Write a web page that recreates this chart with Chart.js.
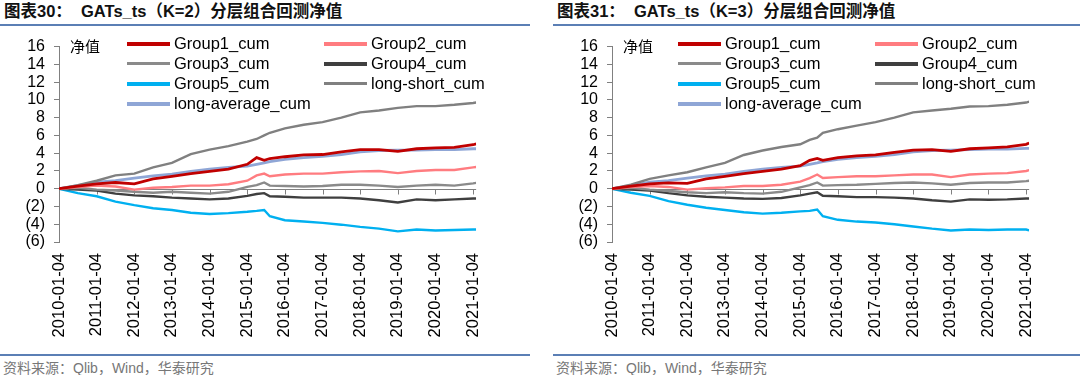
<!DOCTYPE html>
<html>
<head>
<meta charset="utf-8">
<script src="https://cdn.jsdelivr.net/npm/chart.js@4/dist/chart.umd.min.js"></script>
<style>
  html, body { margin: 0; padding: 0; background: #fff; }
  body { width: 1080px; height: 375px; position: relative; overflow: hidden;
         font-family: "Liberation Sans", Arial, "Noto Sans CJK SC", sans-serif; }
  .title { position: absolute; top: 0px; font-size: 16.5px; line-height: 22px; font-weight: bold; color: #111; white-space: pre; }
  .rule { position: absolute; height: 2px; background: #5b7fb5; }
  .source { position: absolute; top: 357px; font-size: 14px; color: #777; white-space: pre; }
  canvas { position: absolute; top: 28px; }
  .legend { position: absolute; top: 0; left: 0; }
  .item { position: absolute; font-size: 16.5px; color: #000; line-height: 18px; white-space: pre; }
  .item span { position: absolute; left: 0; top: 8px; width: 43px; }
  .item b { position: absolute; left: 47px; top: 0; font-weight: normal; }
  .unit { position: absolute; top: 35px; font-size: 15px; color: #000; font-family: "Noto Sans CJK SC", sans-serif; }
</style>
</head>
<body>
<div class="title" style="left:4px">图表30：  GATs_ts（K=2）分层组合回测净值</div>
<div class="rule" style="left:0; width:530px; top:24px"></div>
<canvas id="c1" width="504" height="322" style="left:0"></canvas>
<div class="unit" style="left:70px">净值</div>
<div class="legend" id="l1"></div>
<div class="rule" style="left:0; width:530px; top:354px; height:1.5px"></div>
<div class="source" style="left:3px">资料来源：Qlib，Wind，华泰研究</div>

<div class="title" style="left:557px">图表31：  GATs_ts（K=3）分层组合回测净值</div>
<div class="rule" style="left:553px; width:527px; top:24px"></div>
<canvas id="c2" width="504" height="322" style="left:553px"></canvas>
<div class="unit" style="left:623px">净值</div>
<div class="legend" id="l2"></div>
<div class="rule" style="left:553px; width:527px; top:354px; height:1.5px"></div>
<div class="source" style="left:556px">资料来源：Qlib，Wind，华泰研究</div>

<script>
// x positions in fractional years
var xYears = [2010, 2010.5, 2011, 2011.5, 2012, 2012.5, 2013, 2013.5, 2014, 2014.5,
              2015, 2015.25, 2015.45, 2015.6, 2016, 2016.5, 2017, 2017.5, 2018, 2018.5,
              2019, 2019.5, 2020, 2020.5, 2021, 2021.08];
var xTickValues = [2010, 2011, 2012, 2013, 2014, 2015, 2016, 2017, 2018, 2019, 2020, 2021];
var xTickLabels = ['2010-01-04', '2011-01-04', '2012-01-04', '2013-01-04', '2014-01-04', '2015-01-04',
                   '2016-01-04', '2017-01-04', '2018-01-04', '2019-01-04', '2020-01-04', '2021-01-04'];

var seriesNames = ['Group1_cum', 'Group2_cum', 'Group3_cum', 'Group4_cum', 'Group5_cum', 'long-short_cum', 'long-average_cum'];
var seriesColors = ['#c00000', '#ff7c80', '#8a8a8a', '#3f3f3f', '#00b0f0', '#808080', '#8fa6d6'];
var lineWidths = [2.8, 2.4, 2.4, 2.4, 2.4, 2.4, 2.8];
var legendWidths = [3.5, 3.5, 3, 3.5, 3.5, 3, 3.5];

// chart 30 (K=2)
var k2_group1 = [0, 0.3, 0.55, 0.7, 0.55, 1.1, 1.4, 1.7, 1.95, 2.2, 2.75, 3.5, 3.2, 3.4, 3.6, 3.8, 3.85, 4.15, 4.4, 4.4, 4.2, 4.5, 4.6, 4.65, 4.95, 5.05];
var k2_group2 = [0, 0.2, 0.35, 0.25, -0.1, 0.1, 0.2, 0.35, 0.35, 0.5, 0.9, 1.5, 1.7, 1.4, 1.6, 1.7, 1.7, 1.85, 1.95, 2.0, 1.75, 2.0, 2.1, 2.1, 2.4, 2.45];
var k2_group3 = [0, 0.1, -0.1, -0.2, -0.35, -0.45, -0.35, -0.45, -0.55, -0.35, 0.2, 0.4, 0.7, 0.35, 0.3, 0.25, 0.3, 0.45, 0.45, 0.35, 0.2, 0.35, 0.45, 0.35, 0.6, 0.65];
var k2_group4 = [0, -0.1, -0.2, -0.55, -0.75, -0.85, -1.0, -1.1, -1.2, -1.1, -0.8, -0.6, -0.5, -0.85, -0.9, -1.0, -1.0, -1.0, -1.1, -1.3, -1.55, -1.2, -1.3, -1.2, -1.1, -1.1];
var k2_group5 = [0, -0.5, -0.85, -1.45, -1.85, -2.2, -2.4, -2.7, -2.85, -2.75, -2.6, -2.5, -2.4, -3.1, -3.55, -3.7, -3.85, -4.05, -4.3, -4.5, -4.8, -4.6, -4.7, -4.65, -4.6, -4.6];
var k2_longShort = [0, 0.4, 0.9, 1.5, 1.7, 2.4, 2.9, 3.9, 4.4, 4.8, 5.3, 5.6, 6.0, 6.3, 6.8, 7.2, 7.5, 8.0, 8.6, 8.8, 9.1, 9.3, 9.3, 9.45, 9.65, 9.7];
var k2_longAvg = [0, 0.35, 0.75, 0.9, 1.2, 1.45, 1.65, 1.95, 2.2, 2.4, 2.55, 2.75, 2.9, 3.05, 3.3, 3.5, 3.65, 3.85, 4.15, 4.3, 4.35, 4.35, 4.4, 4.4, 4.5, 4.5];

// chart 31 (K=3)
var k3_group1 = [0, 0.3, 0.55, 0.65, 0.6, 1.1, 1.4, 1.7, 1.95, 2.2, 2.6, 3.2, 3.4, 3.2, 3.5, 3.7, 3.8, 4.1, 4.35, 4.4, 4.2, 4.5, 4.6, 4.7, 5.0, 5.15];
var k3_group2 = [0, 0.2, 0.3, 0.2, -0.1, 0.05, 0.15, 0.3, 0.3, 0.45, 0.8, 1.2, 1.6, 1.2, 1.3, 1.4, 1.4, 1.5, 1.6, 1.6, 1.3, 1.6, 1.7, 1.75, 2.0, 2.1];
var k3_group3 = [0, 0.1, -0.1, -0.25, -0.4, -0.5, -0.4, -0.5, -0.55, -0.35, 0.15, 0.4, 0.7, 0.35, 0.4, 0.45, 0.55, 0.65, 0.7, 0.6, 0.45, 0.65, 0.7, 0.7, 0.85, 0.9];
var k3_group4 = [0, -0.1, -0.2, -0.5, -0.75, -0.9, -1.0, -1.1, -1.15, -1.05, -0.75, -0.55, -0.4, -0.8, -0.85, -0.95, -0.95, -1.0, -1.1, -1.3, -1.45, -1.2, -1.25, -1.2, -1.1, -1.1];
var k3_group5 = [0, -0.45, -0.8, -1.4, -1.8, -2.15, -2.4, -2.65, -2.8, -2.7, -2.55, -2.5, -2.35, -3.1, -3.5, -3.7, -3.8, -4.0, -4.25, -4.5, -4.7, -4.6, -4.65, -4.6, -4.6, -4.7];
var k3_longShort = [0, 0.45, 1.1, 1.5, 1.85, 2.4, 2.9, 3.8, 4.3, 4.7, 5.0, 5.5, 5.75, 6.3, 6.7, 7.1, 7.5, 8.0, 8.6, 8.8, 9.0, 9.25, 9.3, 9.45, 9.7, 9.8];
var k3_longAvg = [0, 0.35, 0.75, 0.9, 1.2, 1.45, 1.65, 1.95, 2.2, 2.4, 2.55, 2.75, 2.9, 3.05, 3.3, 3.5, 3.65, 3.85, 4.15, 4.3, 4.35, 4.4, 4.45, 4.45, 4.55, 4.55];

// draws the horizontal axis through zero with small downward ticks
var zeroAxis = {
  id: 'zeroAxis',
  beforeDatasetsDraw: function(chart) {
    var ctx = chart.ctx, area = chart.chartArea;
    var x = chart.scales.x, y0 = Math.round(chart.scales.y.getPixelForValue(0)) + 0.5;
    ctx.save();
    ctx.strokeStyle = '#808080';
    ctx.lineWidth = 1;
    ctx.beginPath();
    ctx.moveTo(area.left, y0);
    ctx.lineTo(area.right, y0);
    xTickValues.forEach(function(v) {
      var px = Math.round(x.getPixelForValue(v)) + 0.5;
      ctx.moveTo(px, y0);
      ctx.lineTo(px, y0 + 5);
    });
    ctx.stroke();
    ctx.restore();
  }
};

function makeChart(canvasId, legendId, values, offsetLeft) {
  var datasets = values.map(function(vals, i) {
    return {
      label: seriesNames[i],
      data: vals.map(function(v, j) { return { x: xYears[j], y: v }; }),
      borderColor: seriesColors[i],
      backgroundColor: seriesColors[i],
      borderWidth: lineWidths[i],
      pointRadius: 0,
      tension: 0
    };
  });

  new Chart(document.getElementById(canvasId), {
    type: 'line',
    data: { datasets: datasets },
    options: {
      responsive: false,
      animation: false,
      devicePixelRatio: 1,
      layout: { padding: { top: 15, right: 8, bottom: 0, left: 0 } },
      plugins: { legend: { display: false }, tooltip: { enabled: false } },
      scales: {
        x: {
          type: 'linear',
          min: 2010,
          max: 2021.08,
          afterBuildTicks: function(s) { s.ticks = xTickValues.map(function(v) { return { value: v }; }); },
          afterFit: function(s) { s.height = 108; },
          grid: { display: false, drawTicks: false },
          border: { display: false },
          ticks: {
            autoSkip: false, minRotation: 90, maxRotation: 90, padding: 11,
            color: '#000', font: { family: 'Liberation Sans', size: 16.5 },
            callback: function(v, i) { return xTickLabels[i]; }
          }
        },
        y: {
          min: -6,
          max: 16,
          afterFit: function(s) { s.width = 59; },
          grid: { drawOnChartArea: false, color: '#808080', tickLength: 5 },
          border: { color: '#808080' },
          ticks: {
            stepSize: 2, autoSkip: false, padding: 9, color: '#000',
            font: { family: 'Liberation Sans', size: 16 },
            callback: function(v) { return v < 0 ? '(' + (-v) + ')' : String(v); }
          }
        }
      }
    },
    plugins: [zeroAxis]
  });

  // legend laid over the plot, two columns
  var legend = document.getElementById(legendId);
  seriesNames.forEach(function(name, i) {
    var col = i % 2, row = Math.floor(i / 2);
    var item = document.createElement('div');
    item.className = 'item';
    item.style.left = (offsetLeft + (col === 0 ? 127 : 324)) + 'px';
    item.style.top = (34 + row * 20) + 'px';
    var line = document.createElement('span');
    line.style.height = legendWidths[i] + 'px';
    line.style.background = seriesColors[i];
    var txt = document.createElement('b');
    txt.textContent = name;
    item.appendChild(line);
    item.appendChild(txt);
    legend.appendChild(item);
  });
}

makeChart('c1', 'l1', [k2_group1, k2_group2, k2_group3, k2_group4, k2_group5, k2_longShort, k2_longAvg], 0);
makeChart('c2', 'l2', [k3_group1, k3_group2, k3_group3, k3_group4, k3_group5, k3_longShort, k3_longAvg], 551);
</script>
</body>
</html>
